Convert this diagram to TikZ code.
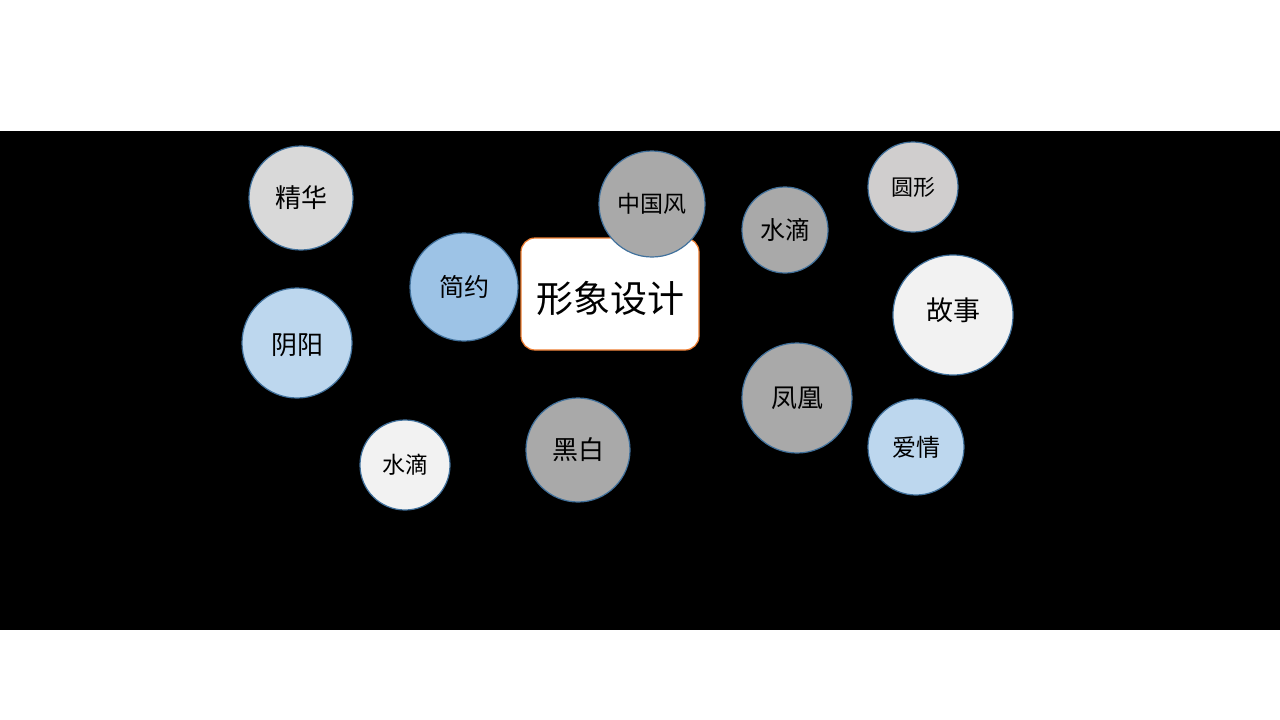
\documentclass[tikz,border=0pt]{standalone}
\usepackage{fontspec}
\newfontfamily\cjk{Noto Sans CJK SC}
\definecolor{cBorder}{HTML}{41719C}
\definecolor{cOrange}{HTML}{ED7D31}
\definecolor{cGrayA}{HTML}{D9D9D9}
\definecolor{cGrayB}{HTML}{A9A9A9}
\definecolor{cGrayC}{HTML}{D0CECE}
\definecolor{cLight}{HTML}{F2F2F2}
\definecolor{cBlueA}{HTML}{9DC3E6}
\definecolor{cBlueB}{HTML}{BDD7EE}
\tikzset{
  bubble/.style={circle, draw=cBorder, line width=1.2pt, inner sep=0pt, text=black, font=\cjk},
}
\newcommand{\fs}[1]{\fontsize{#1}{#1}\selectfont}
\newcommand{\mv}[2]{\raisebox{#1}[\height][\depth]{#2}}
\begin{document}
\begin{tikzpicture}[x=1pt,y=-1pt]
\useasboundingbox (0,0) rectangle (1280,720);
\fill[white] (0,0) rectangle (1280,720);
\fill[black] (0,131) rectangle (1280,630);
\node[draw=cOrange, fill=white, line width=1.2pt, rounded corners=14pt, minimum width=178pt, minimum height=112pt, inner sep=0pt, font=\cjk\fs{37}] (main) at (610,294) {\mv{-4pt}{形象设计}};
\node[bubble, fill=cGrayA, minimum size=104pt, font=\cjk\fs{26}] (jinghua) at (301,198) {精华};
\node[bubble, fill=cBlueA, minimum size=108pt, font=\cjk\fs{25}] (jianyue) at (464,287) {简约};
\node[bubble, fill=cBlueB, minimum size=110pt, font=\cjk\fs{26}] (yinyang) at (297,343) {\mv{-2pt}{阴阳}};
\node[bubble, fill=cLight, minimum size=90pt, font=\cjk\fs{23}] (shuidiA) at (405,465) {水滴};
\node[bubble, fill=cGrayB, minimum size=104pt, font=\cjk\fs{26}] (heibai) at (578,450) {黑白};
\node[bubble, fill=cGrayB, minimum size=106pt, font=\cjk\fs{23}] (zhongguo) at (652,204) {中国风};
\node[bubble, fill=cGrayB, minimum size=86pt, font=\cjk\fs{25}] (shuidiB) at (785,230) {水滴};
\node[bubble, fill=cGrayC, minimum size=90pt, font=\cjk\fs{22}] (yuanxing) at (913,187) {圆形};
\node[bubble, fill=cLight, minimum size=120pt, font=\cjk\fs{27}] (gushi) at (953,315) {\mv{5pt}{故事}};
\node[bubble, fill=cGrayB, minimum size=110pt, font=\cjk\fs{26}] (fenghuang) at (797,398) {凤凰};
\node[bubble, fill=cBlueB, minimum size=96pt, font=\cjk\fs{24}] (aiqing) at (916,447) {爱情};
\end{tikzpicture}
\end{document}
